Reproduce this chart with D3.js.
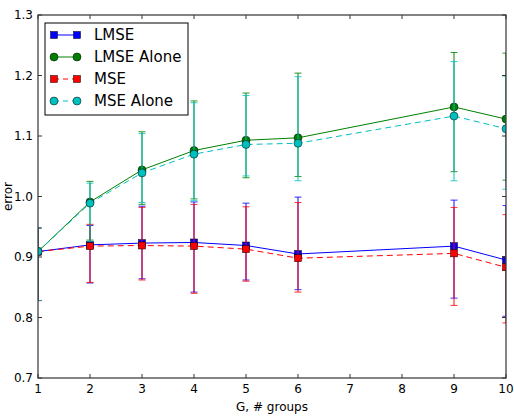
<!DOCTYPE html>
<html>
<head>
<meta charset="utf-8">
<script src="https://cdn.jsdelivr.net/npm/d3@7"></script>
<style>
  body { margin: 0; background: #fff; }
  svg { font-family: "DejaVu Sans", sans-serif; }
</style>
</head>
<body>
<div id="chart"></div>
<script>
// ----- data -----
const groups = [1, 2, 3, 4, 5, 6, 9, 10];

const lmse      = [0.909, 0.920, 0.923, 0.924, 0.919, 0.905, 0.918, 0.895];
const lmseLo    = [0.828, 0.857, 0.864, 0.842, 0.862, 0.846, 0.832, 0.802];
const lmseHi    = [0.948, 0.952, 0.984, 0.991, 0.989, 0.999, 0.994, 0.985];

const lmseAlone   = [0.909, 0.991, 1.044, 1.076, 1.093, 1.097, 1.148, 1.128];
const lmseAloneLo = [0.828, 0.928, 0.987, 0.996, 1.031, 1.033, 1.041, 1.027];
const lmseAloneHi = [0.948, 1.025, 1.107, 1.158, 1.171, 1.204, 1.238, 1.237];

const mse      = [0.909, 0.918, 0.919, 0.918, 0.913, 0.898, 0.906, 0.883];
const mseLo    = [0.828, 0.858, 0.862, 0.840, 0.860, 0.842, 0.820, 0.791];
const mseHi    = [0.948, 0.954, 0.982, 0.987, 0.983, 0.990, 0.982, 0.970];

const mseAlone   = [0.909, 0.989, 1.039, 1.070, 1.086, 1.088, 1.133, 1.112];
const mseAloneLo = [0.828, 0.926, 0.990, 0.993, 1.034, 1.026, 1.026, 1.012];
const mseAloneHi = [0.948, 1.022, 1.104, 1.155, 1.167, 1.198, 1.223, 1.199];

const xTicks = [1, 2, 3, 4, 5, 6, 7, 8, 9, 10];
const yTicks = [0.7, 0.8, 0.9, 1.0, 1.1, 1.2, 1.3];

const series = [
  {name: 'LMSE',       y: lmse,      lo: lmseLo,      hi: lmseHi,      color: '#0000ff', marker: 'square', dash: null},
  {name: 'LMSE Alone', y: lmseAlone, lo: lmseAloneLo, hi: lmseAloneHi, color: '#008000', marker: 'circle', dash: null},
  {name: 'MSE',        y: mse,       lo: mseLo,       hi: mseHi,       color: '#ff0000', marker: 'square', dash: '6,4'},
  {name: 'MSE Alone',  y: mseAlone,  lo: mseAloneLo,  hi: mseAloneHi,  color: '#00bfbf', marker: 'circle', dash: '6,4'}
];

// ----- layout -----
const W = 514, H = 420;
const mLeft = 38, mRight = 506, mTop = 15, mBottom = 378;

const svg = d3.select('#chart').append('svg')
  .attr('width', W).attr('height', H);

const x = d3.scaleLinear().domain([1, 10]).range([mLeft, mRight]);
const y = d3.scaleLinear().domain([0.7, 1.3]).range([mBottom, mTop]);

svg.append('defs').append('clipPath').attr('id', 'clip')
  .append('rect').attr('x', mLeft).attr('y', mTop)
  .attr('width', mRight - mLeft).attr('height', mBottom - mTop);

const plot = svg.append('g').attr('clip-path', 'url(#clip)');

const line = d3.line().x(d => x(d[0])).y(d => y(d[1]));

function drawMarker(g, type, cx, cy, color) {
  if (type === 'square') {
    g.append('rect')
      .attr('x', cx - 3.5).attr('y', cy - 3.5)
      .attr('width', 7).attr('height', 7)
      .attr('fill', color).attr('stroke', '#000').attr('stroke-width', 0.5);
  } else {
    g.append('circle')
      .attr('cx', cx).attr('cy', cy).attr('r', 4)
      .attr('fill', color).attr('stroke', '#000').attr('stroke-width', 0.5);
  }
}

series.forEach(s => {
  const pts = groups.map((g, i) => [g, s.y[i]]);
  const g = plot.append('g');

  // error bars
  groups.forEach((gr, i) => {
    const px = x(gr);
    g.append('line')
      .attr('x1', px).attr('x2', px)
      .attr('y1', y(s.lo[i])).attr('y2', y(s.hi[i]))
      .attr('stroke', s.color).attr('stroke-width', 1.2).attr('opacity', 0.8);
    [s.lo[i], s.hi[i]].forEach(v => {
      g.append('line')
        .attr('x1', px - 3.5).attr('x2', px + 3.5)
        .attr('y1', y(v)).attr('y2', y(v))
        .attr('stroke', s.color).attr('stroke-width', 1).attr('opacity', 0.8);
    });
  });

  g.append('path')
    .attr('d', line(pts))
    .attr('fill', 'none')
    .attr('stroke', s.color)
    .attr('stroke-width', 1)
    .attr('stroke-dasharray', s.dash);

  pts.forEach(p => drawMarker(g, s.marker, x(p[0]), y(p[1]), s.color));
});

// ----- frame and ticks (inside, all four sides) -----
const axisColor = '#333';
svg.append('rect')
  .attr('x', mLeft).attr('y', mTop)
  .attr('width', mRight - mLeft).attr('height', mBottom - mTop)
  .attr('fill', 'none').attr('stroke', axisColor).attr('stroke-width', 1.2);

xTicks.forEach(t => {
  svg.append('line').attr('x1', x(t)).attr('x2', x(t))
    .attr('y1', mBottom).attr('y2', mBottom - 4).attr('stroke', axisColor);
  svg.append('line').attr('x1', x(t)).attr('x2', x(t))
    .attr('y1', mTop).attr('y2', mTop + 4).attr('stroke', axisColor);
  svg.append('text')
    .attr('x', x(t)).attr('y', 393)
    .attr('text-anchor', 'middle')
    .attr('font-size', 12).attr('fill', '#000')
    .text(t);
});

yTicks.forEach(t => {
  svg.append('line').attr('x1', mLeft).attr('x2', mLeft + 4)
    .attr('y1', y(t)).attr('y2', y(t)).attr('stroke', axisColor);
  svg.append('line').attr('x1', mRight).attr('x2', mRight - 4)
    .attr('y1', y(t)).attr('y2', y(t)).attr('stroke', axisColor);
  svg.append('text')
    .attr('x', mLeft - 5).attr('y', y(t))
    .attr('text-anchor', 'end').attr('dominant-baseline', 'central')
    .attr('font-size', 12).attr('fill', '#000')
    .text(d3.format('.1f')(t));
});

// axis labels
svg.append('text')
  .attr('x', (mLeft + mRight) / 2).attr('y', 411)
  .attr('text-anchor', 'middle').attr('font-size', 12)
  .text('G, # groups');

svg.append('text')
  .attr('transform', `translate(12, ${(mTop + mBottom) / 2}) rotate(-90)`)
  .attr('text-anchor', 'middle').attr('font-size', 12)
  .text('error');

// ----- legend -----
const legend = svg.append('g');
legend.append('rect')
  .attr('x', 45).attr('y', 23).attr('width', 143).attr('height', 92)
  .attr('fill', '#fff').attr('stroke', '#000').attr('stroke-width', 1);

series.forEach((s, i) => {
  const ly = 35 + i * 22;
  legend.append('line')
    .attr('x1', 54).attr('x2', 77).attr('y1', ly).attr('y2', ly)
    .attr('stroke', s.color).attr('stroke-width', 1)
    .attr('stroke-dasharray', s.dash ? '5,4' : null);
  drawMarker(legend, s.marker, 54, ly, s.color);
  drawMarker(legend, s.marker, 77, ly, s.color);
  legend.append('text')
    .attr('x', 94).attr('y', ly)
    .attr('dominant-baseline', 'central')
    .attr('font-size', 15)
    .text(s.name);
});
</script>
</body>
</html>
